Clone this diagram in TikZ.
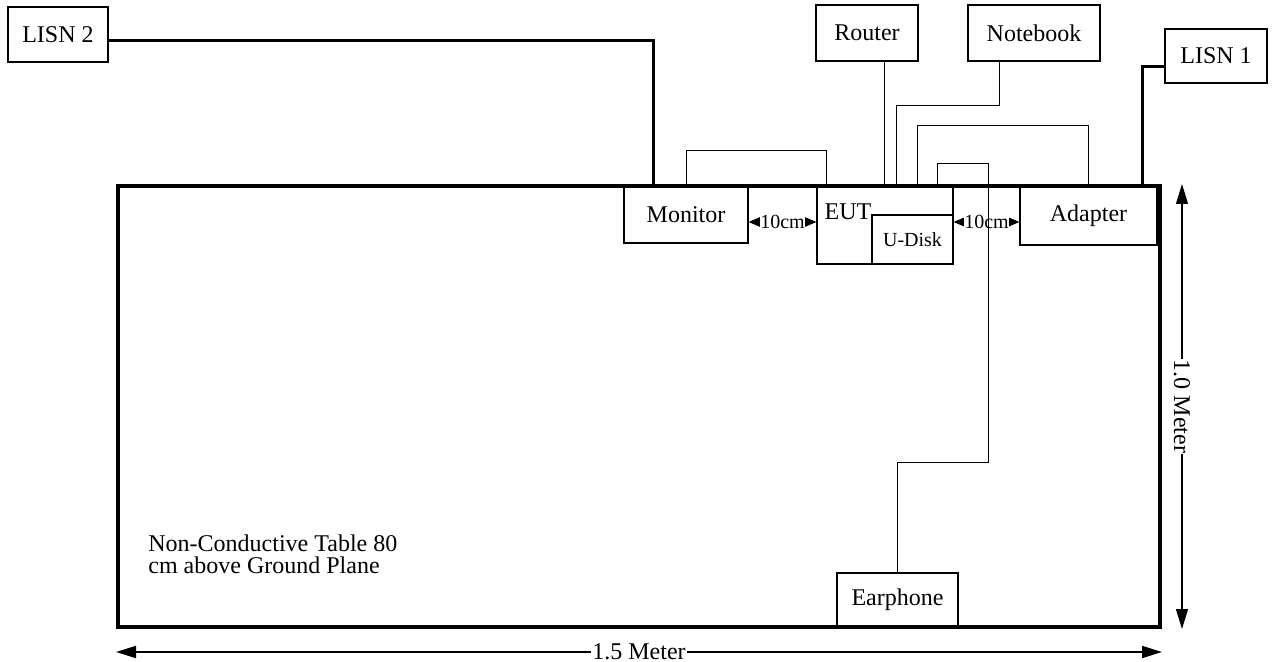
\documentclass[tikz,border=0pt]{standalone}
\usepackage{fontspec}
\setmainfont{Liberation Serif}
\usetikzlibrary{arrows.meta,positioning,calc}

\begin{document}
\begin{tikzpicture}[x=0.5pt, y=-0.5pt, font=\fontsize{12}{11}\selectfont,
  box/.style={draw, line width=0.6pt, inner sep=0pt},
  cable/.style={line width=0.5pt},
  pwr/.style={line width=1.5pt},
  gap/.style={{Triangle[length=6pt,width=5pt]}-{Triangle[length=6pt,width=5pt]}, line width=0.5pt},
  dimarr/.style={{Triangle[length=10pt,width=6pt]}-{Triangle[length=10pt,width=6pt]}},
  small/.style={font=\fontsize{10}{11}\selectfont}]
  \useasboundingbox (0,0) rectangle (1274,662);
  % table
  \node[draw, line width=2pt, minimum width=521pt, minimum height=220.5pt] (table) at (639,406.5) {};
  \node[anchor=north west, inner sep=0pt, align=left] (tabtxt) at (148,534) {Non-Conductive Table 80\\cm above Ground Plane};
  % outside units
  \node[box, minimum width=50pt, minimum height=27.5pt] (lisn2) at (58,34.5) {LISN 2};
  \node[box, minimum width=51pt, minimum height=28pt] (router) at (867,33) {Router};
  \node[box, minimum width=66pt, minimum height=28pt] (nb) at (1034,33) {Notebook};
  \node[box, minimum width=51pt, minimum height=27pt] (lisn1) at (1216,56) {LISN 1};
  % units on the table
  \node[box, minimum width=62pt, minimum height=28.5pt] (mon) at (686,214.5) {Monitor};
  \node[box, minimum width=68pt, minimum height=39pt] (eut) at (885,225) {};
  \node (euttxt) at (848,212) {EUT};
  \node[box, small, minimum width=40.5pt, minimum height=24.5pt] (udisk) at (912.5,239.5) {U-Disk};
  \node[box, minimum width=68.5pt, minimum height=29.5pt] (adp) at (1088.5,215.5) {Adapter};
  \node[box, minimum width=60.5pt, minimum height=27pt] (ear) at (897.5,600) {Earphone};
  % distances
  \draw[gap] ([yshift=-3.75pt]mon.east) -- node[small, fill=white, inner sep=0.3pt] (d1) {10cm} ([yshift=-3.75pt]mon.east -| eut.west);
  \draw[gap] ([yshift=1.5pt]eut.east) -- node[small, fill=white, inner sep=0.3pt] (d2) {10cm} ([yshift=1.5pt]eut.east -| adp.west);
  % power lines
  \draw[pwr] ([yshift=-3.25pt]lisn2.east) -| ([xshift=268.5pt]table.north west);
  \draw[pwr] ([yshift=-5.5pt]lisn1.west) -| ([xshift=-10pt]table.north east);
  % signal cables
  \draw[cable] (mon.north) -- ++(0,-35) -| ([xshift=5pt]eut.north west);
  \draw[cable] ([xshift=8.5pt]router.south) -- ([xshift=8.5pt]router.south |- eut.north);
  \draw[cable] ([xshift=-17.5pt]nb.south) -- ++(0,44) -| ([xshift=40pt]eut.north west);
  \draw[cable] ([xshift=50.5pt]eut.north west) -- ++(0,-60) -| (adp.north);
  \draw[cable] ([xshift=60.5pt]eut.north west) -- ++(0,-22) -| ++(51,299) -| (ear.north);
  % table size
  \draw[dimarr, line width=1pt] ([yshift=-11.5pt]table.south west) -- node[fill=white, inner sep=0.5pt] (wlab) {1.5 Meter} ([yshift=-11.5pt]table.south east);
  \draw[dimarr, line width=0.6pt] ([xshift=10pt]table.north east) -- node[fill=white, inner sep=0.5pt, rotate=-90] (hlab) {1.0 Meter} ([xshift=10pt]table.south east);
\end{tikzpicture}
\end{document}
